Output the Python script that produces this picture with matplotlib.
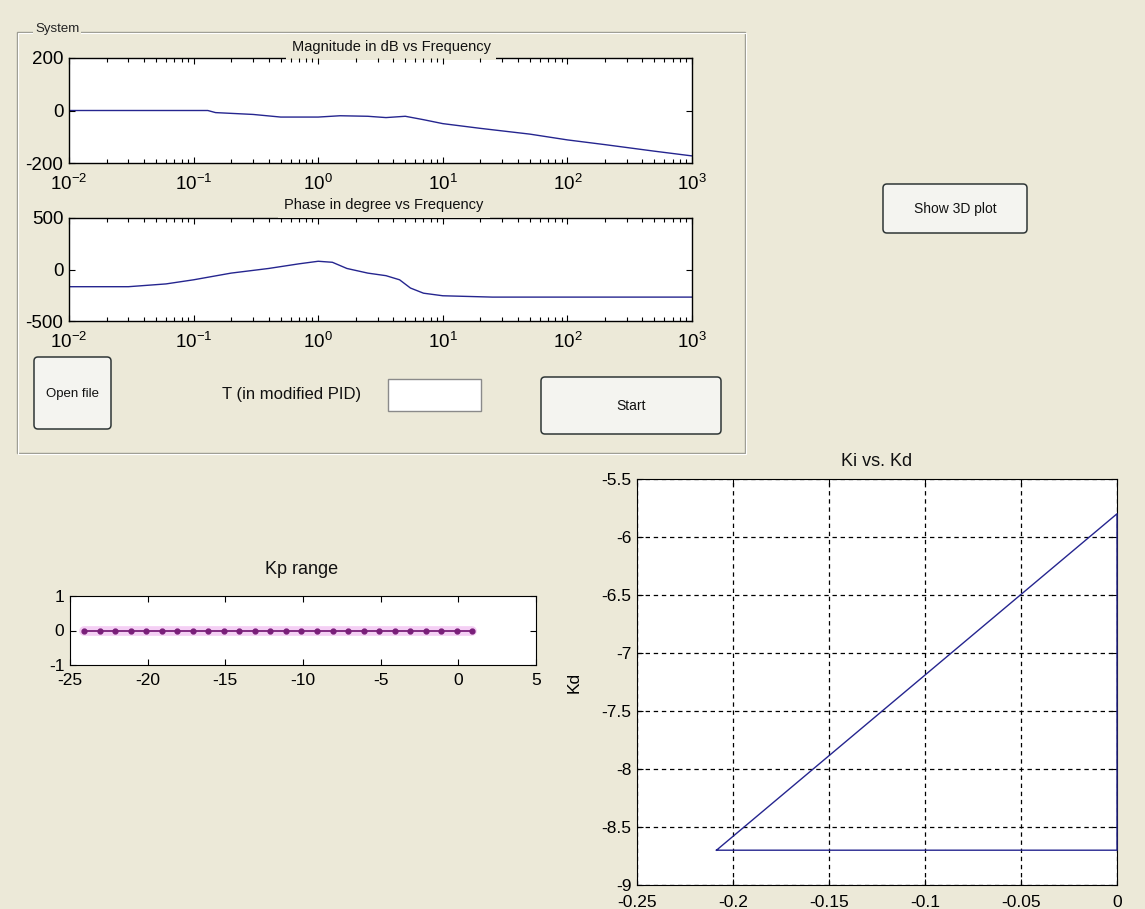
import matplotlib
matplotlib.use("Agg")
import matplotlib.pyplot as plt
from matplotlib.patches import FancyBboxPatch, Rectangle
from matplotlib.ticker import LogLocator, NullFormatter

plt.rcParams['font.family'] = ['Liberation Sans', 'DejaVu Sans']
plt.rcParams['mathtext.fontset'] = 'custom'
plt.rcParams['mathtext.rm'] = 'Liberation Sans'
plt.rcParams['mathtext.it'] = 'Liberation Sans'
plt.rcParams['axes.unicode_minus'] = False

W, H = 1145, 909
BG = '#ece9d8'
BLUE = '#25258f'

# bode data
freq = [0.01, 0.03, 0.13, 0.15, 0.3, 0.5, 1.0, 1.5, 2.5, 3.5, 5.0, 7.0, 10, 20, 50, 100, 200, 500, 1000]
mag_db = [0, 0, 0, -8, -15, -25, -25, -20, -22, -27, -22, -35, -50, -68, -90, -112, -130, -155, -173]
phase_freq = [0.01, 0.03, 0.06, 0.1, 0.2, 0.4, 0.7, 1.0, 1.3, 1.7, 2.5, 3.5, 4.5, 5.5, 7.0, 10, 25, 1000]
phase_deg = [-167, -167, -140, -100, -35, 10, 55, 80, 70, 10, -35, -60, -100, -180, -230, -255, -268, -268]

# Kp range
kp = [-24.1, -23.1, -22.1, -21.1, -20.1, -19.1, -18.1, -17.1, -16.1, -15.1, -14.1, -13.1, -12.1,
      -11.1, -10.1, -9.1, -8.1, -7.1, -6.1, -5.1, -4.1, -3.1, -2.1, -1.1, -0.1, 0.9]
kp_zero = [0] * len(kp)
kp_xticks = [-25, -20, -15, -10, -5, 0, 5]
kp_yticks = [-1, 0, 1]

# Ki vs Kd region
ki = [-0.2086, 0.0, 0.0, -0.2086]
kd = [-8.7, -5.8, -8.7, -8.7]
ki_ticks = [-0.25, -0.2, -0.15, -0.1, -0.05, 0]
ki_labels = ['-0.25', '-0.2', '-0.15', '-0.1', '-0.05', '0']
kd_ticks = [-9, -8.5, -8, -7.5, -7, -6.5, -6, -5.5]
kd_labels = ['-9', '-8.5', '-8', '-7.5', '-7', '-6.5', '-6', '-5.5']


def box(l, t, r, b):
    return [l / W, 1 - b / H, (r - l) / W, (b - t) / H]


fig = plt.figure(figsize=(W / 100, H / 100), dpi=100, facecolor=BG)

# background layer in pixel coordinates
bg = fig.add_axes([0, 0, 1, 1])
bg.set_xlim(0, W)
bg.set_ylim(H, 0)
bg.axis('off')

# "System" panel with etched border
bg.add_patch(Rectangle((17, 32), 728, 421, fill=False, ec='#9a9a90', lw=1.0))
bg.add_patch(Rectangle((18, 33), 728, 421, fill=False, ec='white', lw=0.8))
bg.text(35, 29, 'System', fontsize=9.5, ha='left', va='center', color='#222222',
        bbox=dict(fc=BG, ec='none', boxstyle='square,pad=0.15'))


def button(l, t, r, b, label, size=9.5):
    bg.add_patch(FancyBboxPatch((l, t), r - l, b - t, boxstyle='round,pad=0,rounding_size=4',
                                fc='#f4f4f0', ec='#2e3636', lw=1.1))
    bg.text((l + r) / 2, (t + b) / 2 + 1, label, fontsize=size, ha='center', va='center', color='#111111')


button(34, 357, 111, 429, 'Open file', 9.5)
button(541, 377, 721, 434, 'Start', 10)
button(883, 184, 1027, 233, 'Show 3D plot', 10)
bg.text(292, 395, 'T (in modified PID)', fontsize=12, ha='center', va='center', color='#111111')
bg.add_patch(Rectangle((388, 379), 93, 32, fc='white', ec='#8a8a8a', lw=1.0))


def bode_axes(pos, x, y, ylim, yticks, title, title_xy):
    ax = fig.add_axes(pos)
    ax.set_facecolor('white')
    ax.semilogx(x, y, color=BLUE, lw=1.0)
    ax.set_xlim(1e-2, 1e3)
    ax.set_ylim(*ylim)
    ax.set_yticks(yticks)
    ax.set_yticklabels([str(v) for v in yticks])
    ax.xaxis.set_major_locator(LogLocator(base=10, numticks=10))
    ax.xaxis.set_minor_locator(LogLocator(base=10, subs=range(2, 10), numticks=20))
    ax.xaxis.set_minor_formatter(NullFormatter())
    ax.tick_params(which='both', direction='in', top=True, right=True, labelsize=13.5)
    ax.tick_params(axis='x', which='major', pad=8)
    ax.tick_params(axis='y', pad=4)
    ax.tick_params(which='major', length=4.5, width=0.8)
    ax.tick_params(which='minor', length=3, width=0.8)
    for s in ax.spines.values():
        s.set_linewidth(1.0)
    ax.xaxis.set_zorder(2.7)
    ax.yaxis.set_zorder(2.7)
    ax.text(title_xy[0], title_xy[1], title, transform=bg.transData, fontsize=10.5,
            ha='center', va='center', color='#111111', zorder=2.6, clip_on=False,
            bbox=dict(fc=BG, ec='none', boxstyle='square,pad=0.4'))
    return ax


bode_axes(box(69, 58, 692, 163), freq, mag_db, (-200, 200), [-200, 0, 200],
          'Magnitude in dB vs Frequency', (391, 47))
bode_axes(box(69, 218, 692, 321), phase_freq, phase_deg, (-500, 500), [-500, 0, 500],
          'Phase in degree vs Frequency', (384, 205))

# Kp range strip
ax_kp = fig.add_axes(box(70, 596, 536, 665))
ax_kp.set_facecolor('white')
ax_kp.plot(kp, kp_zero, color='#f2c4f2', lw=7, solid_capstyle='round', alpha=0.8)
ax_kp.plot(kp, kp_zero, color='#7a1f7a', lw=1.3, marker='.', markersize=7)
ax_kp.set_xlim(-25, 5)
ax_kp.set_ylim(-1, 1)
ax_kp.set_xticks(kp_xticks)
ax_kp.set_xticklabels([str(v) for v in kp_xticks])
ax_kp.set_yticks(kp_yticks)
ax_kp.set_yticklabels([str(v) for v in kp_yticks])
ax_kp.tick_params(direction='in', top=True, right=True, labelsize=12.5, length=4.5)
ax_kp.tick_params(axis='x', pad=6)
ax_kp.tick_params(axis='y', pad=4)
# lift the lowest y label clear of the x labels
ax_kp.get_yticklabels()[0].set_va('center_baseline')
bg.text(302, 569, 'Kp range', fontsize=13, ha='center', va='center', color='#111111')

# Ki vs Kd
ax_k = fig.add_axes(box(637, 479, 1117, 885))
ax_k.set_facecolor('white')
ax_k.plot(ki, kd, color=BLUE, lw=1.0, clip_on=False, zorder=3)
ax_k.set_xlim(-0.25, 0)
ax_k.set_ylim(-9, -5.5)
ax_k.set_xticks(ki_ticks)
ax_k.set_xticklabels(ki_labels)
ax_k.set_yticks(kd_ticks)
ax_k.set_yticklabels(kd_labels)
ax_k.grid(True, color='black', lw=0.9, linestyle=(0, (3.5, 3)))
ax_k.tick_params(direction='in', top=True, right=True, labelsize=12.5, length=4)
ax_k.tick_params(axis='x', pad=7)
ax_k.tick_params(axis='y', pad=4)
ax_k.set_ylabel('Kd', fontsize=12.5, labelpad=14)
bg.text(877, 461, 'Ki vs. Kd', fontsize=13, ha='center', va='center', color='#111111')

fig.savefig('out.png', dpi=100, facecolor=BG)
